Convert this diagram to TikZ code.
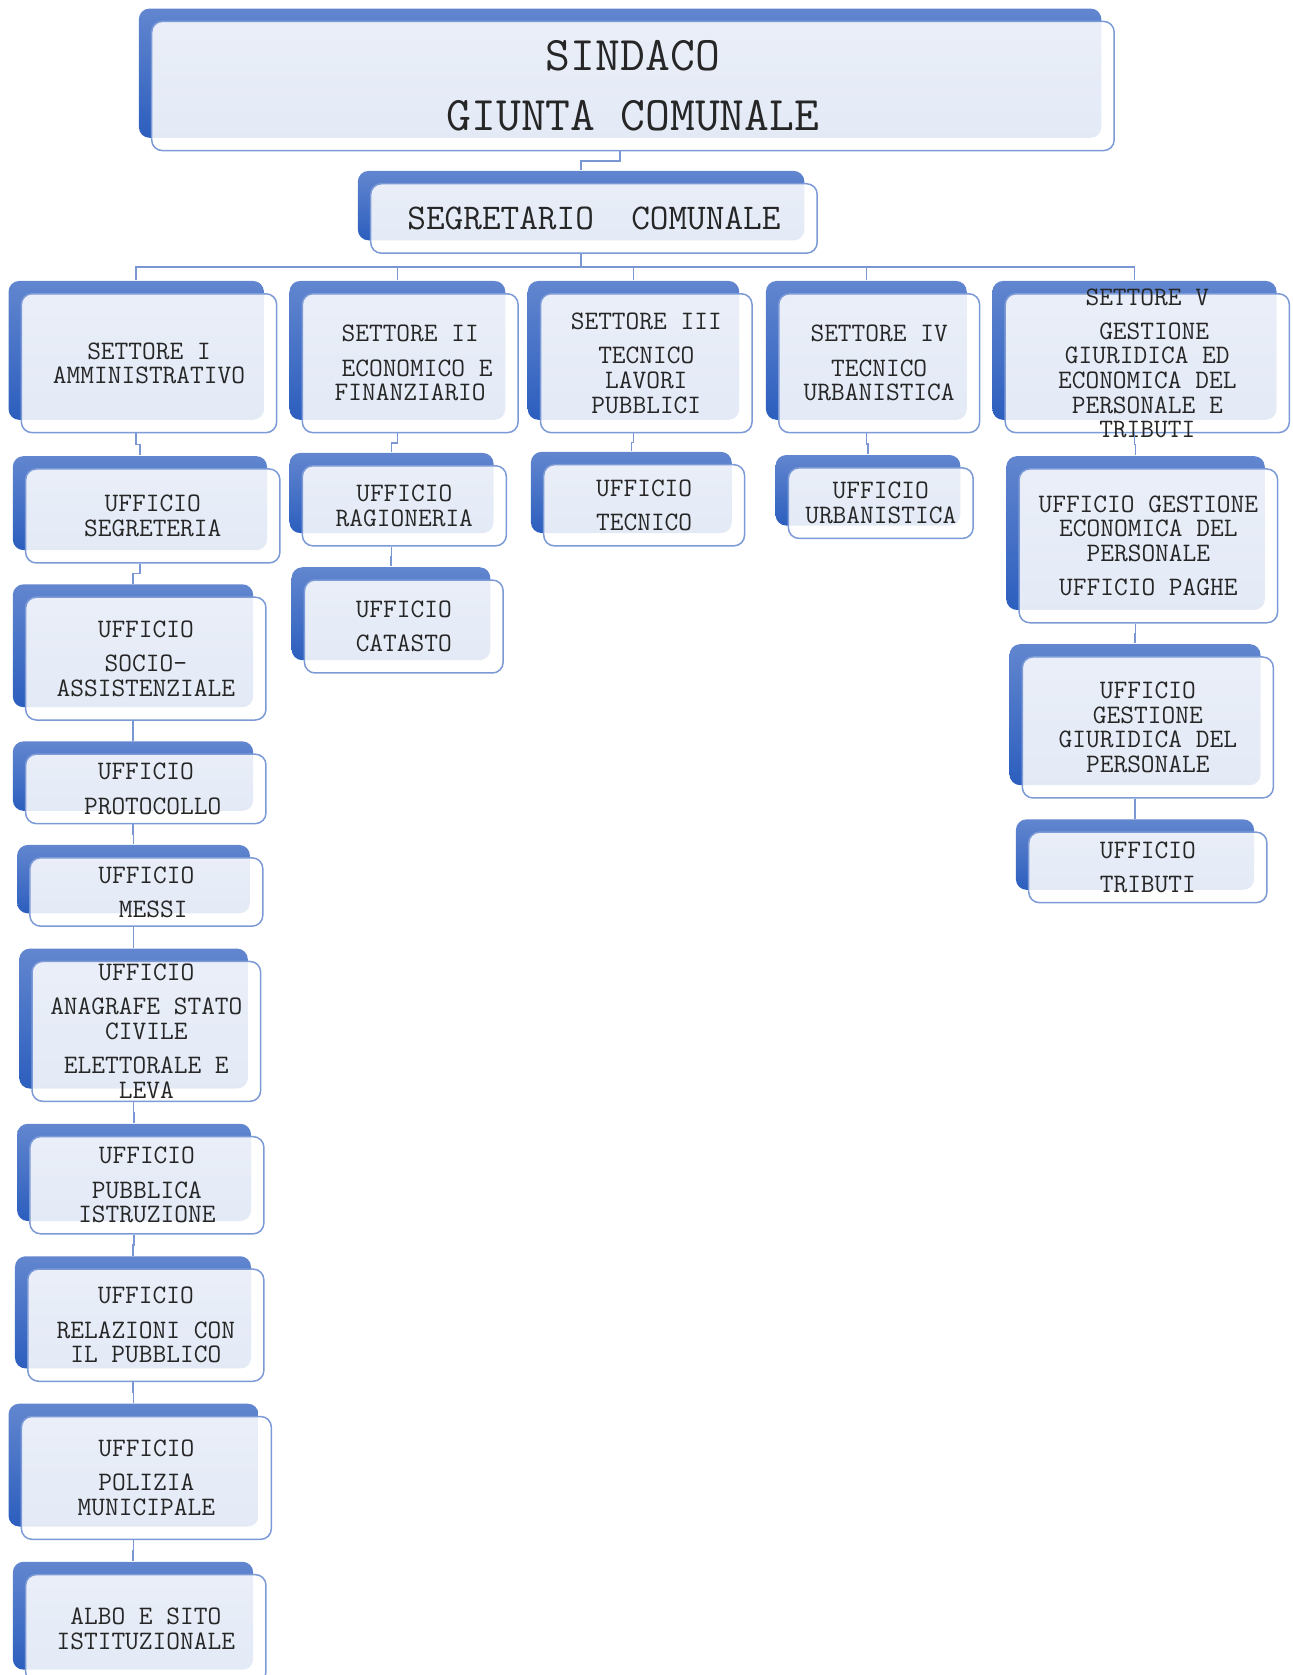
\documentclass[tikz,border=0pt]{standalone}
\usepackage{fontspec}
\usetikzlibrary{calc}

\definecolor{backtop}{RGB}{98,134,207}
\definecolor{backbot}{RGB}{44,94,190}
\definecolor{rimblue}{RGB}{124,154,214}
\definecolor{linkblue}{RGB}{122,151,212}

\newcommand{\bigfont}{\ttfamily\fontsize{25.7}{31.9}\selectfont}
\newcommand{\midfont}{\ttfamily\fontsize{19.3}{22}\selectfont}
\newcommand{\smallfont}{\ttfamily\fontsize{14.2}{13.1}\selectfont}

\tikzset{
  sz/.style 2 args={minimum width=#1*.02cm, minimum height=#2*.02cm},
  orgbox/.style={rectangle, rounded corners=.2cm, draw=rimblue, line width=.8pt,
    fill=white, fill opacity=.87, text opacity=1, text=black!85,
    inner xsep=0pt, inner ysep=-.4cm, align=center,
    preaction={draw=none, fill opacity=1, top color=backtop, bottom color=backbot,
      transform canvas={shift={(-.24cm,.24cm)}}}},
  link/.style={draw=linkblue, line width=.8pt, to path={
    ([xshift=-.24cm]\tikztostart.south)
    |- ($([xshift=-.24cm]\tikztostart.south)!.5!([shift={(-.24cm,.24cm)}]\tikztotarget.north)$)
    -| ([shift={(-.24cm,.24cm)}]\tikztotarget.north)}}
}

\begin{document}
\begin{tikzpicture}[x=.02cm, y=-.02cm]
  \useasboundingbox (0,0) rectangle (1210,1568);

  \begin{scope}[every node/.style={orgbox, font=\smallfont}]
    \node[sz={901}{121}, font=\bigfont] (sind) at (592.5,80.5) {SINDACO\\GIUNTA COMUNALE};
    \node[sz={418}{65}, font=\midfont] (segr) at (556,204.5) {SEGRETARIO\ \ COMUNALE};

    % settori
    \node[sz={239}{130}] (s1) at (139.5,340) {SETTORE I\\AMMINISTRATIVO};
    \node[sz={202}{130}] (s2) at (384,340) {SETTORE II\\[.18cm]\hphantom{X}ECONOMICO E\\FINANZIARIO};
    \node[sz={198}{130}] (s3) at (605,340) {SETTORE III\\[.18cm]TECNICO\\LAVORI\\PUBBLICI};
    \node[sz={188}{130}] (s4) at (823,340) {SETTORE IV\\[.18cm]TECNICO\\URBANISTICA};
    \node[sz={266}{130}] (s5) at (1074,340) {SETTORE V\\[.18cm]\hphantom{X}GESTIONE\\GIURIDICA ED\\ECONOMICA DEL\\PERSONALE E\\TRIBUTI};

    % uffici settore I
    \node[sz={238}{88}] (u11) at (143,483) {UFFICIO\\SEGRETERIA};
    \node[sz={225}{115}] (u12) at (136.5,616.5) {UFFICIO\\[.18cm]SOCIO-\\ASSISTENZIALE};
    \node[sz={225}{65}] (u13) at (136.5,738.5) {UFFICIO\\[.18cm]\hphantom{X}PROTOCOLLO};
    \node[sz={218}{64}] (u14) at (137,835) {UFFICIO\\[.18cm]\hphantom{X}MESSI};
    \node[sz={214}{131}] (u15) at (137,965.5) {UFFICIO\\[.18cm]ANAGRAFE STATO\\CIVILE\\[.18cm]ELETTORALE E\\LEVA};
    \node[sz={219}{91}] (u16) at (137.5,1109.5) {UFFICIO\\[.18cm]PUBBLICA\\ISTRUZIONE};
    \node[sz={221}{105}] (u17) at (136.5,1240.5) {UFFICIO\\[.18cm]RELAZIONI CON\\IL PUBBLICO};
    \node[sz={234}{115}] (u18) at (137,1383.5) {UFFICIO\\[.18cm]POLIZIA\\MUNICIPALE};
    \node[sz={225}{101}] (u19) at (136.5,1524.5) {ALBO E SITO\\ISTITUZIONALE};

    % uffici settori II, III, IV
    \node[sz={191}{75}] (u21) at (378.5,473.5) {UFFICIO\\RAGIONERIA};
    \node[sz={186}{87}] (u22) at (378,586.5) {UFFICIO\\[.18cm]CATASTO};
    \node[sz={188}{76}] (u31) at (603,473) {UFFICIO\\[.18cm]TECNICO};
    \node[sz={173}{66}] (u41) at (824.5,471) {UFFICIO\\URBANISTICA};

    % uffici settore V
    \node[sz={242}{144}] (u51) at (1075,511) {UFFICIO GESTIONE\\ECONOMICA DEL\\PERSONALE\\[.18cm]UFFICIO PAGHE};
    \node[sz={235}{132}] (u52) at (1074.5,681) {UFFICIO\\GESTIONE\\GIURIDICA DEL\\PERSONALE};
    \node[sz={223}{66}] (u53) at (1074.5,812) {UFFICIO\\[.18cm]TRIBUTI};
  \end{scope}

  \begin{scope}[every edge/.style={link}]
    \path (sind) edge (segr);
    \path (segr) edge (s1) edge (s2) edge (s3) edge (s4) edge (s5);
    \path (s1)  edge (u11);
    \path (u11) edge (u12);
    \path (u12) edge (u13);
    \path (u13) edge (u14);
    \path (u14) edge (u15);
    \path (u15) edge (u16);
    \path (u16) edge (u17);
    \path (u17) edge (u18);
    \path (u18) edge (u19);
    \path (s2)  edge (u21);
    \path (u21) edge (u22);
    \path (s3)  edge (u31);
    \path (s4)  edge (u41);
    \path (s5)  edge (u51);
    \path (u51) edge (u52);
    \path (u52) edge (u53);
  \end{scope}

\end{tikzpicture}
\end{document}
